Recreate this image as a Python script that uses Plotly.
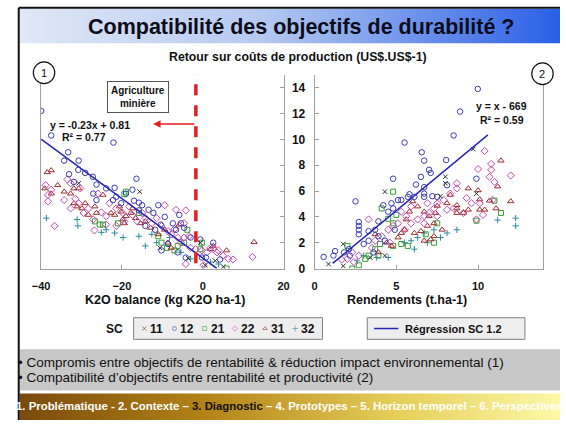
import plotly.graph_objects as go

# ---------------- data ----------------
# Panel 1 : K2O balance (kg K2O/ha) vs return on production costs
L11_x = [-30.7, -15.6, -0.6, -10.6, -3.6, 0.6, 5.1, 3.1]
L11_y = [6.6, 5.95, 2.0, 1.6, 0.8, 0.25, 0.15, 0.6]

L12_x = [-40.0, -37.5, -33.3, -34.3, -30.7, -22.1, -30.8, -29.1, -33.1, -27.2, -31.9, -26.3,
         -23.9, -21.8, -17.4, -16.4, -27.1, -22.2, -20.2, -17.0, -15.0, -13.4, -12.2, -11.0,
         -15.8, -9.4, -7.4, -5.8, -5.4, -4.6, -6.6, -10.4, -11.8, -14.2, -3.0, -0.6, 2.6, 0.8,
         4.3, -6.2, -8.6, -10.2, -4.2, -0.2, -21.4, -19.0, -26.3, -15.8]
L12_y = [12.2, 10.3, 9.0, 8.35, 8.35, 9.75, 7.64, 7.4, 7.3, 7.1, 6.7, 6.5,
         6.2, 6.25, 6.1, 6.95, 5.8, 5.3, 5.05, 5.25, 4.9, 4.55, 4.3, 4.9,
         4.5, 4.0, 3.5, 4.15, 3.5, 3.15, 3.0, 3.4, 3.0, 3.3, 2.4, 2.25, 2.0, 0.85,
         0.7, 1.25, 1.9, 1.4, 0.85, 0.85, 5.55, 5.8, 5.3, 5.1]

L21_x = [-19.0, -19.4, -25.5, -24.7, -26.7, -21.0, -15.8, -10.2, -11.0, -6.2, -4.6, -3.8,
         -0.6, -0.2, 5.9, -8.8, -7.0]
L21_y = [5.95, 5.75, 3.4, 3.4, 3.65, 3.5, 4.3, 2.0, 2.5, 1.75, 2.0, 3.0,
         1.5, 2.0, 0.0, 1.6, 1.4]

L22_x = [-38.9, -37.5, -33.5, -32.7, -34.3, -32.7, -31.5, -30.7, -38.3, -29.5, -28.3, -27.1,
         -26.8, -25.1, -23.9, -23.1, -21.4, -19.8, -19.4, -18.2, -17.4, -16.2, -15.0, -14.2,
         -12.6, -11.4, -10.2, -8.6, -7.8, -7.0, -6.2, -5.4, -4.2, -4.6, -3.4, -3.0, -4.2,
         -1.8, -0.2, 1.0, 1.9, 2.6, 3.9, 5.0, 6.3, 7.5, 0.2, 3.5, 12.3, -9.4, -6.6, -36.7,
         -25.9, -30.3, -38.3, -23.9, -21.4, -4.6]
L22_y = [6.45, 6.1, 6.9, 6.6, 5.3, 4.65, 5.4, 5.05, 5.2, 4.3, 4.65, 3.8,
         2.95, 4.35, 4.05, 5.05, 4.65, 4.3, 3.65, 4.8, 4.15, 3.65, 4.3, 3.9,
         3.5, 3.9, 3.3, 2.9, 2.65, 3.05, 2.4, 2.0, 4.5, 3.5, 2.5, 1.6, 0.35,
         1.5, 1.4, 1.25, 1.6, 1.5, 1.4, 1.0, 0.75, 0.7, 0.25, 1.25, 0.9, 4.9, 4.55, 3.3,
         5.8, 6.2, 5.7, 3.4, 3.3, 2.4]

L31_x = [-38.5, -37.5, -39.1, -35.9, -37.5, -34.3, -32.7, -31.9, -30.7, -31.9, -31.1, -29.9,
         -29.1, -28.3, -24.7, -20.6, -20.2, -19.8, -19.0, -22.7, -17.8, -17.4, -16.6, -14.2,
         -12.9, -11.0, -9.4, -8.6, -7.8, -5.8, 1.9, 2.6, 5.9, 12.7, -26.7, -21.8, -15.4,
         -26.3, -19.4]
L31_y = [7.45, 7.6, 6.2, 6.45, 5.8, 5.95, 5.8, 6.2, 6.2, 5.05, 4.8, 4.65,
         5.05, 4.15, 5.7, 4.8, 4.4, 3.8, 4.05, 4.3, 4.3, 4.65, 3.9, 3.65,
         3.15, 2.65, 3.0, 2.0, 1.6, 3.4, 1.5, 1.75, 1.4, 2.05, 4.8, 4.15, 3.5,
         4.3, 3.5]

L32_x = [-38.7, -30.9, -31.1, -25.1, -21.8, -19.7, -15.8, -14.2, -12.6, -11.4, -8.2, -5.4,
         -3.0, 1.9, 3.9, -23.9]
L32_y = [3.9, 3.3, 3.8, 2.8, 2.75, 2.4, 2.5, 1.75, 2.65, 2.0, 2.4, 1.25,
         0.75, 0.5, 0.35, 3.0]

# Panel 2 : yield (t/ha) vs return on production costs
R11_x = [4.3, 1.75, 1.75, 8.0, 8.0, 9.9, 7.7, 4.3, 3.4, 9.7, 0.85]
R11_y = [5.95, 1.9, 0.2, 7.1, 6.6, 5.8, 5.6, 1.0, 0.85, 9.25, 0.35]

R12_x = [9.98, 8.9, 8.5, 5.5, 6.55, 6.7, 7.0, 7.1, 8.05, 4.8, 6.5, 6.2, 6.7, 6.7, 5.8, 5.7,
         5.3, 6.1, 6.7, 7.2, 4.7, 4.8, 4.5, 4.2, 2.5, 2.7, 2.7, 2.7, 2.7, 3.3, 3.9, 3.7,
         3.0, 3.3, 3.9, 2.1, 1.8, 1.15, 0.55, 1.25, 2.15, 9.9, 7.5, 8.1, 5.1, 3.6, 4.3, 4.9]
R12_y = [13.9, 12.15, 10.3, 9.75, 9.0, 8.35, 7.64, 7.4, 8.4, 6.95, 7.1, 6.5, 6.3, 5.8, 5.75, 5.55,
         5.3, 5.55, 5.55, 5.6, 5.05, 4.65, 4.4, 4.9, 5.2, 3.6, 3.3, 3.0, 2.65, 2.9, 3.65, 3.0,
         1.9, 2.15, 2.5, 1.5, 1.25, 1.0, 0.9, 1.35, 1.0, 6.95, 5.55, 6.45, 5.3, 1.25, 2.15, 3.0]

R21_x = [4.8, 4.1, 4.5, 4.8, 5.0, 5.3, 5.7, 4.8, 4.0, 3.7, 3.9, 3.1, 3.3, 2.3, 2.0, 6.8,
         7.5, 9.9, 11.0, 11.4, 7.3, 2.7]
R21_y = [5.95, 4.65, 3.85, 3.5, 4.15, 1.9, 1.75, 1.75, 1.9, 1.5, 1.0, 0.75, 1.0, 0.0, 1.75, 2.65,
         3.5, 3.7, 5.25, 4.3, 2.0, 0.25]

R22_x = [10.4, 10.0, 10.8, 10.8, 12.0, 11.0, 10.7, 9.3, 9.6, 10.1, 8.7, 8.7, 8.3, 7.9, 7.5,
         7.3, 7.0, 6.7, 6.3, 5.9, 5.6, 5.3, 5.1, 4.8, 4.5, 4.1, 3.7, 3.3, 2.3, 2.7, 2.0, 2.4,
         1.65, 5.9, 6.9, 8.1, 8.5, 9.1, 9.9, 10.3, 10.9, 5.5, 6.7, 7.5, 3.5, 4.6]
R22_y = [9.1, 7.7, 8.1, 7.64, 7.2, 6.7, 7.1, 5.45, 5.05, 5.05, 6.6, 6.2, 5.8, 5.3, 5.05,
         4.65, 4.3, 4.05, 3.8, 3.5, 4.05, 4.4, 3.5, 3.3, 3.0, 2.5, 2.15, 3.8, 1.25, 1.0, 0.75, 0.5,
         0.7, 4.8, 5.05, 4.55, 4.65, 4.3, 3.8, 4.15, 5.3, 3.0, 3.5, 4.05, 1.6, 2.0]

R31_x = [11.4, 11.2, 9.4, 10.0, 10.1, 10.7, 12.0, 11.1, 10.1, 9.4, 9.1, 10.4, 8.7, 8.7, 8.7,
         8.1, 7.5, 7.4, 7.0, 6.7, 6.3, 6.0, 5.8, 5.6, 5.5, 5.3, 5.1, 4.7, 4.4, 6.9, 6.5, 6.1,
         7.3, 7.8, 7.1, 6.7, 3.9, 3.7, 8.3, 7.3]
R31_y = [8.35, 6.35, 6.2, 6.05, 5.35, 5.25, 5.2, 4.65, 4.55, 4.55, 4.3, 4.55, 4.9, 4.3, 4.65,
         5.05, 4.85, 4.3, 4.05, 4.4, 4.8, 5.2, 4.4, 3.8, 3.0, 2.75, 2.4, 1.75, 2.0, 3.3, 2.9, 2.75,
         3.5, 3.0, 2.25, 2.15, 1.25, 2.65, 5.7, 2.5]

R32_x = [12.3, 12.3, 11.2, 8.7, 8.1, 7.7, 6.9, 6.3, 5.9, 6.7, 6.1, 4.5, 3.8, 5.5, 7.3, 2.6, 3.0]
R32_y = [3.9, 3.3, 3.75, 3.0, 2.75, 2.4, 2.0, 2.4, 2.15, 2.75, 1.5, 0.85, 0.85, 2.0, 3.0, 0.6, 1.0]

# Regression of SC 1.2 (panel 1 from the equation, panel 2 endpoints)
REG1_SLOPE, REG1_INTERCEPT = -0.23, 0.81
REG1_X = [-40.0, 3.5]
REG2_X = [1.1, 10.6]
REG2_Y = [0.4, 10.35]

# Mining-agriculture threshold on the K2O balance
K2O_THRESHOLD = -1.7

SC_LABELS = ["11", "12", "21", "22", "31", "32"]
X1_TICKS = [-40, -20, 0, 20]
X2_TICKS = [0, 5, 10]
Y_TICKS = [0, 2, 4, 6, 8, 10, 12, 14]

# ---------------- styles ----------------
W, H = 566, 427
FONT = "Arial, Liberation Sans, sans-serif"
STYLE = {
    "11": dict(symbol="x-thin-open", color="#303030", size=4.5),
    "12": dict(symbol="circle-open", color="#3c3cb4", size=5.5),
    "21": dict(symbol="square-open", color="#34a034", size=5),
    "22": dict(symbol="diamond-open", color="#c24aae", size=5.5),
    "31": dict(symbol="triangle-up-open", color="#a02c2c", size=5.5),
    "32": dict(symbol="cross-thin-open", color="#2a8c9c", size=4.5),
}
REG_COLOR = "#2626b4"

left = {"11": (L11_x, L11_y), "12": (L12_x, L12_y), "21": (L21_x, L21_y),
        "22": (L22_x, L22_y), "31": (L31_x, L31_y), "32": (L32_x, L32_y)}
right = {"11": (R11_x, R11_y), "12": (R12_x, R12_y), "21": (R21_x, R21_y),
         "22": (R22_x, R22_y), "31": (R31_x, R31_y), "32": (R32_x, R32_y)}

fig = go.Figure()

draw_order = ["32", "21", "31", "22", "12", "11"]
for panel, (xa, ya) in ((left, ("x", "y")), (right, ("x2", "y2"))):
    for sc in draw_order:
        xs, ys = panel[sc]
        st = STYLE[sc]
        fig.add_trace(go.Scatter(
            x=xs, y=ys, mode="markers", xaxis=xa, yaxis=ya, name="SC " + sc,
            showlegend=False,
            marker=dict(symbol=st["symbol"], size=st["size"], color=st["color"],
                        line=dict(width=1, color=st["color"])),
        ))

# regression lines
fig.add_trace(go.Scatter(
    x=REG1_X, y=[REG1_SLOPE * v + REG1_INTERCEPT for v in REG1_X], mode="lines",
    xaxis="x", yaxis="y", line=dict(color=REG_COLOR, width=1.5), showlegend=False))
fig.add_trace(go.Scatter(
    x=REG2_X, y=REG2_Y, mode="lines", xaxis="x2", yaxis="y2",
    line=dict(color=REG_COLOR, width=1.5), showlegend=False))

# red dashed threshold
fig.add_trace(go.Scatter(
    x=[K2O_THRESHOLD, K2O_THRESHOLD], y=[0.4, 15.2], mode="lines", xaxis="x", yaxis="y",
    line=dict(color="#e02020", width=3.5, dash="11px,10px"), showlegend=False,
    cliponaxis=False))

# ---------------- slide decoration (pixel overlay axes) ----------------
def band(x0, x1, y0, y1, scale):
    fig.add_trace(go.Scatter(
        x=[x0, x1, x1, x0, x0], y=[y0, y0, y1, y1, y0], mode="lines", fill="toself",
        fillgradient=dict(type="horizontal", colorscale=scale),
        line=dict(width=0), xaxis="x3", yaxis="y3", hoverinfo="skip", showlegend=False))

band(11, W, 9, 44, [[0, "#dfe8f6"], [0.45, "#b5c9f0"], [1, "#2a5fe6"]])
band(11, W, 400, H, [[0, "#7a4a0c"], [0.35, "#b48418"], [0.7, "#e6cf5a"], [1, "#fdf8a8"]])

shapes = [
    # slide frame
    dict(type="line", xref="x3", yref="y3", x0=10, x1=W, y0=8, y1=8,
         line=dict(color="#111", width=2)),
    dict(type="line", xref="x3", yref="y3", x0=10, x1=10, y0=8, y1=H,
         line=dict(color="#111", width=2)),
    # bullets box
    dict(type="rect", xref="x3", yref="y3", x0=11, x1=W, y0=355, y1=397,
         fillcolor="#c8c8c8", line=dict(width=0), layer="below"),
    # legend boxes
    dict(type="rect", xref="x3", yref="y3", x0=128, x1=322, y0=323, y1=345,
         fillcolor="#eeeeee", line=dict(color="#808080", width=1), layer="below"),
    dict(type="rect", xref="x3", yref="y3", x0=368, x1=530, y0=323, y1=345,
         fillcolor="#eeeeee", line=dict(color="#808080", width=1), layer="below"),
    dict(type="line", xref="x3", yref="y3", x0=375, x1=400, y0=334, y1=334,
         line=dict(color=REG_COLOR, width=1.5)),
    # panel number circles
    dict(type="circle", xref="x3", yref="y3", x0=25, x1=47, y0=63, y1=85,
         line=dict(color="#111", width=1.2), fillcolor="white"),
    dict(type="circle", xref="x3", yref="y3", x0=537, x1=559, y0=64, y1=86,
         line=dict(color="#111", width=1.2), fillcolor="white"),
]

# SC legend markers
leg_x0, leg_step = 139, 31
for i, sc in enumerate(SC_LABELS):
    st = STYLE[sc]
    fig.add_trace(go.Scatter(
        x=[leg_x0 + i * leg_step], y=[334], mode="markers", xaxis="x3", yaxis="y3",
        marker=dict(symbol=st["symbol"], size=4, color=st["color"],
                    line=dict(width=0.8, color=st["color"])),
        hoverinfo="skip", showlegend=False, opacity=0.7))

def txt(x, y, s, size=11, bold=True, color="#111", xanchor="center", **kw):
    d = dict(x=x, y=y, xref="x3", yref="y3", text=s, showarrow=False,
             xanchor=xanchor, yanchor="middle",
             font=dict(family=FONT, size=size, color=color,
                       weight="bold" if bold else "normal"))
    d.update(kw)
    return d

ann = [
    txt(300, 27, "Compatibilité des objectifs de durabilité ?", size=21.5, color="#0d0d1a"),
    txt(297, 58, "Retour sur coûts de production (US$.US$-1)", size=12.3),
    txt(36, 74, "1", size=11, bold=False),
    txt(548, 75, "2", size=11, bold=False),
    txt(132, 99, "Agriculture<br>minière", size=10, bordercolor="#555", borderwidth=1,
        bgcolor="white", borderpad=3),
    txt(40, 127, "y = -0.23x + 0.81", size=10.5, xanchor="left"),
    txt(77, 139, "R² = 0.77", size=10.5),
    txt(506, 108, "y = x - 669", size=10.5),
    txt(506, 122, "R² = 0.59", size=10.5),
    txt(160, 305, "K2O balance (kg K2O ha-1)", size=12.5),
    txt(409, 305, "Rendements (t.ha-1)", size=12.5),
    txt(108, 334, "SC", size=12),
    txt(405, 334, "Régression SC 1.2", size=11, xanchor="left"),
    txt(7, 369, "• Compromis entre objectifs de rentabilité & réduction impact environnemental (1)",
        size=13.5, bold=False, xanchor="left"),
    txt(7, 384, "• Compatibilité d’objectifs entre rentabilité et productivité (2)",
        size=13.5, bold=False, xanchor="left"),
    txt(288, 413,
        "1. Problématique - 2. Contexte – <span style='color:#111'>3. Diagnostic</span>"
        " – 4. Prototypes – 5. Horizon temporel – 6. Perspectives",
        size=11.4, color="white"),
    # arrow towards negative balance
    dict(x=148, y=126, ax=192, ay=126, xref="x3", yref="y3", axref="x3", ayref="y3",
         text="", showarrow=True, arrowhead=2, arrowsize=1, arrowwidth=1.5,
         arrowcolor="#e02020"),
]
for i, sc in enumerate(SC_LABELS):
    ann.append(txt(leg_x0 + i * leg_step + 4, 334, sc, size=12, xanchor="left"))

axis_common = dict(showgrid=False, zeroline=False, showline=True, linecolor="#a0a0a0",
                   linewidth=1, ticks="inside", ticklen=4, tickcolor="#a0a0a0",
                   tickfont=dict(family=FONT, size=11, color="#111", weight="bold"))

px_x = lambda p: p / W
px_y = lambda p: 1 - p / H

fig.update_layout(
    width=W, height=H, margin=dict(l=0, r=0, t=0, b=0),
    paper_bgcolor="white", plot_bgcolor="rgba(0,0,0,0)",
    shapes=shapes, annotations=ann, showlegend=False,
    xaxis=dict(domain=[px_x(33), px_x(282)], range=[-40, 20], tickvals=X1_TICKS,
               anchor="y", ticklabelstandoff=7, **axis_common),
    yaxis=dict(domain=[px_y(273), px_y(76)], range=[0, 15], tickvals=Y_TICKS,
               anchor="x", side="right", showticklabels=False, mirror=True, **axis_common),
    xaxis2=dict(domain=[px_x(314), px_x(549)], range=[0, 14], tickvals=X2_TICKS,
                anchor="y2", ticklabelstandoff=7, **axis_common),
    yaxis2=dict(domain=[px_y(273), px_y(76)], range=[0, 15], tickvals=Y_TICKS,
                anchor="x2", mirror=True, ticklabelstandoff=6,
                **{**axis_common, "tickfont": dict(family=FONT, size=12, color="#111",
                                                   weight="bold")}),
    xaxis3=dict(domain=[0, 1], range=[0, W], visible=False, anchor="y3", fixedrange=True),
    yaxis3=dict(domain=[0, 1], range=[H, 0], visible=False, anchor="x3", fixedrange=True),
)

fig.write_html("out.html")
